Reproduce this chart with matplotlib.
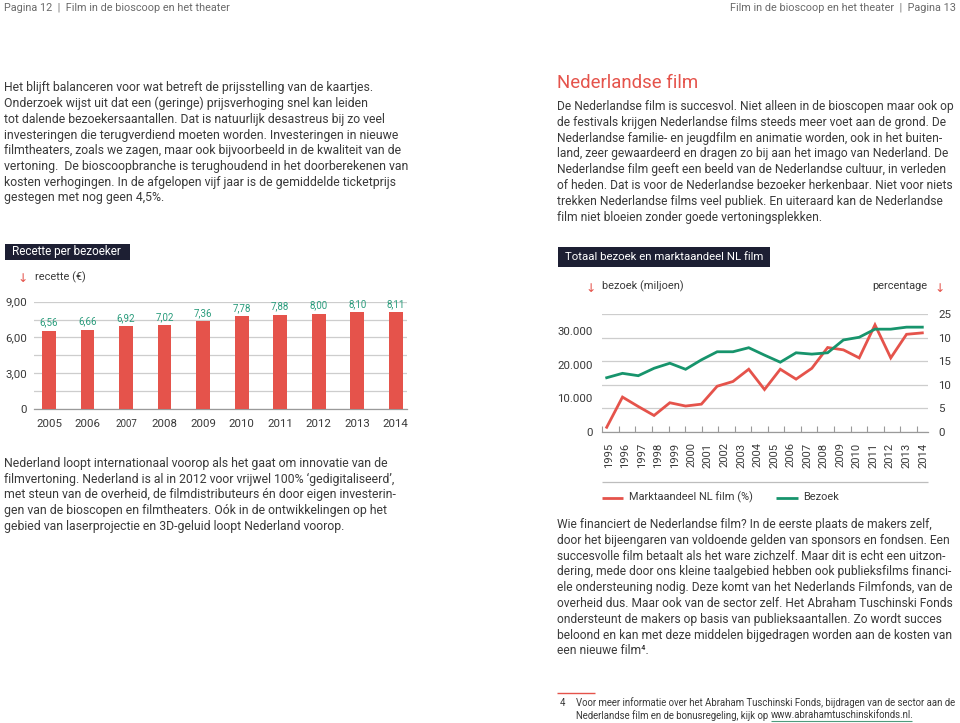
import matplotlib
matplotlib.use('Agg')
import matplotlib.pyplot as plt
from matplotlib.patches import Rectangle
from matplotlib.lines import Line2D
from matplotlib import font_manager
import numpy as np

W, H = 960, 723
BODY = 'Roboto'
_avail = {f.name for f in font_manager.fontManager.ttflist}
NARROW = 'Liberation Sans Narrow' if 'Liberation Sans Narrow' in _avail else BODY
FAM = [BODY, 'DejaVu Sans']
plt.rcParams['font.family'] = FAM

RED = '#e5534b'
GREEN = '#17946c'
TEAL = '#2a9c7c'
NAVY = '#1d1f33'
TXT = '#3a3a3a'
GRID = '#cdcdcd'
AXIS = '#9a9a9a'

# ---------------- data ----------------
bar_years = ['2005', '2006', '2007', '2008', '2009', '2010', '2011', '2012', '2013', '2014']
recette = [6.56, 6.66, 6.92, 7.02, 7.36, 7.78, 7.88, 8.00, 8.10, 8.11]
bar_ticks = [0, 3, 6, 9]
bar_tick_labels = ['0', '3,00', '6,00', '9,00']

line_years = ['1995', '1996', '1997', '1998', '1999', '2000', '2001', '2002', '2003', '2004',
              '2005', '2006', '2007', '2008', '2009', '2010', '2011', '2012', '2013', '2014']
marktaandeel = [1.0, 7.4, 5.4, 3.5, 6.2, 5.5, 5.9, 9.7, 10.7, 13.3, 9.0,
                13.3, 11.2, 13.5, 17.9, 17.4, 15.7, 22.7, 15.7, 20.7, 21.0]
bezoek = [16100, 17400, 16700, 18900, 20400, 18600, 21400, 23800, 23800, 25000, 22800,
          20700, 23500, 23100, 23500, 27300, 28100, 30500, 30500, 31100, 31100]
left_ticks = [0, 10000, 20000, 30000]
left_labels = ['0', '10.000', '20.000', '30.000']
right_ticks = [0, 5, 10, 15, 20, 25]
right_labels = ['0', '5', '10', '15', '10', '25']

header_left = 'Pagina 12  |  Film in de bioscoop en het theater'
header_right = 'Film in de bioscoop en het theater  |  Pagina 13'

para_top_left = [
    'Het blijft balanceren voor wat betreft de prijsstelling van de kaartjes.',
    'Onderzoek wijst uit dat een (geringe) prijsverhoging snel kan leiden',
    'tot dalende bezoekersaantallen. Dat is natuurlijk desastreus bij zo veel',
    'investeringen die terugverdiend moeten worden. Investeringen in nieuwe',
    'filmtheaters, zoals we zagen, maar ook bijvoorbeeld in de kwaliteit van de',
    'vertoning.  De bioscoopbranche is terughoudend in het doorberekenen van',
    'kosten verhogingen. In de afgelopen vijf jaar is de gemiddelde ticketprijs',
    'gestegen met nog geen 4,5%.',
]
heading_right = 'Nederlandse film'
para_top_right = [
    'De Nederlandse film is succesvol. Niet alleen in de bioscopen maar ook op',
    'de festivals krijgen Nederlandse films steeds meer voet aan de grond. De',
    'Nederlandse familie- en jeugdfilm en animatie worden, ook in het buiten-',
    'land, zeer gewaardeerd en dragen zo bij aan het imago van Nederland. De',
    'Nederlandse film geeft een beeld van de Nederlandse cultuur, in verleden',
    'of heden. Dat is voor de Nederlandse bezoeker herkenbaar. Niet voor niets',
    'trekken Nederlandse films veel publiek. En uiteraard kan de Nederlandse',
    'film niet bloeien zonder goede vertoningsplekken.',
]
para_bottom_left = [
    'Nederland loopt internationaal voorop als het gaat om innovatie van de',
    'filmvertoning. Nederland is al in 2012 voor vrijwel 100% \u2018gedigitaliseerd\u2019,',
    'met steun van de overheid, de filmdistributeurs \u00e9n door eigen investerin-',
    'gen van de bioscopen en filmtheaters. O\u00f3k in de ontwikkelingen op het',
    'gebied van laserprojectie en 3D-geluid loopt Nederland voorop.',
]
para_bottom_right = [
    'Wie financiert de Nederlandse film? In de eerste plaats de makers zelf,',
    'door het bijeengaren van voldoende gelden van sponsors en fondsen. Een',
    'succesvolle film betaalt als het ware zichzelf. Maar dit is echt een uitzon-',
    'dering, mede door ons kleine taalgebied hebben ook publieksfilms financi-',
    'ele ondersteuning nodig. Deze komt van het Nederlands Filmfonds, van de',
    'overheid dus. Maar ook van de sector zelf. Het Abraham Tuschinski Fonds',
    'ondersteunt de makers op basis van publieksaantallen. Zo wordt succes',
    'beloond en kan met deze middelen bijgedragen worden aan de kosten van',
    'een nieuwe film\u2074.',
]
foot_1 = 'Voor meer informatie over het Abraham Tuschinski Fonds, bijdragen van de sector aan de'
foot_2 = 'Nederlandse film en de bonusregeling, kijk op '
foot_url = 'www.abrahamtuschinskifonds.nl.'

# ---------------- figure helpers ----------------
fig = plt.figure(figsize=(W / 100, H / 100), dpi=100)
fig.patch.set_facecolor('white')
renderer = fig.canvas.get_renderer()


def fx(x):
    return x / W


def fy(y):
    return 1 - y / H


def rect(l, t, r, b):
    return [l / W, 1 - b / H, (r - l) / W, (b - t) / H]


def fit(text, width, family=None, base=10.0):
    t = fig.text(0, 0, text, fontsize=base, family=family or FAM)
    w = t.get_window_extent(renderer).width
    t.remove()
    return base * width / w


def put(x, y, s, size, color=TXT, ha='left', va='center', family=None, **kw):
    return fig.text(fx(x), fy(y), s, fontsize=size, color=color, ha=ha, va=va,
                    family=family or FAM, **kw)


def paragraph(lines, x, y0, step, size):
    for i, s in enumerate(lines):
        put(x, y0 + i * step, s, size)


def title_box(l, t, r, b, s, size):
    fig.add_artist(Rectangle((fx(l), fy(b)), (r - l) / W, (b - t) / H,
                             transform=fig.transFigure, facecolor=NAVY, edgecolor='none'))
    put(l + 7, (t + b) / 2, s, size, color='white')


def hline(x0, x1, y, color, lw):
    fig.add_artist(Line2D([fx(x0), fx(x1)], [fy(y), fy(y)], transform=fig.transFigure,
                          color=color, lw=lw, solid_capstyle='butt'))


# ---------------- header ----------------
hs = fit(header_left, 225, family=[NARROW, 'DejaVu Sans'])
put(4, 8, header_left, hs, color='#6a6a6a', family=[NARROW, 'DejaVu Sans'])
put(956, 8, header_right, hs, color='#6a6a6a', ha='right', family=[NARROW, 'DejaVu Sans'])

# ---------------- body text ----------------
body = fit(para_top_left[0], 371)
body_r = fit(para_top_right[0], 396)
paragraph(para_top_left, 4, 88, 15.7, body)
put(557, 83, heading_right, fit(heading_right, 141), color=RED)
paragraph(para_top_right, 557, 106.5, 15.8, body_r)
paragraph(para_bottom_left, 4, 463.5, 15.7, body)
paragraph(para_bottom_right, 557, 524.5, 15.8, body_r)

fs = fit(foot_1, 381)
hline(557, 595, 693, RED, 1.0)
put(560, 703, '4', fs)
put(576.5, 703, foot_1, fs)
t2 = put(576.5, 715.5, foot_2, fs)
w2 = t2.get_window_extent(renderer).width
tu = put(576.5 + w2, 715.5, foot_url, fs)
wu = tu.get_window_extent(renderer).width
hline(576.5 + w2, 576.5 + w2 + wu - 2, 721, '#4f9a7c', 0.8)

# ---------------- bar chart ----------------
title_box(5, 244, 129.5, 260, 'Recette per bezoeker', fit('Recette per bezoeker', 110))
lab_size = fit('bezoek (miljoen)', 81.7)
put(22.5, 279, '\u2193', lab_size + 1, color=RED, ha='center')
put(35, 277, 'recette (\u20ac)', lab_size)

ax1 = fig.add_axes(rect(34.3, 301.7, 407.3, 409))
xb = np.arange(len(bar_years))
bars = ax1.bar(xb, recette, width=0.36, color=RED, zorder=3)
ax1.set_xlim(-0.38, len(bar_years) - 1 + 0.30)
ax1.set_ylim(0, 9)
ax1.set_yticks(bar_ticks, bar_tick_labels)
ax1.set_yticks([1.5, 4.5, 7.5], minor=True)
ax1.grid(axis='y', which='both', color=GRID, lw=0.9)
ax1.set_axisbelow(True)
for s in ['top', 'right', 'left']:
    ax1.spines[s].set_visible(False)
ax1.spines['bottom'].set_color(AXIS)
ax1.spines['bottom'].set_linewidth(0.9)
tick_size = fit('30.000', 35)
ax1.set_xticks(xb, bar_years)
ax1.tick_params(axis='both', which='both', length=0, labelsize=tick_size, labelcolor=TXT)
ax1.tick_params(axis='y', pad=5)
ax1.tick_params(axis='x', pad=7)
for lbl in ax1.get_xticklabels():
    if lbl.get_text() == '2007':
        lbl.set_fontsize(tick_size * 0.85)
val_size = fit('6,56', 18.3)
ax1.bar_label(bars, labels=[f'{v:.2f}'.replace('.', ',') for v in recette],
              padding=2.5, color=TEAL, fontsize=val_size)

# ---------------- line chart ----------------
title_box(558.3, 247.3, 770, 266.7, 'Totaal bezoek en marktaandeel NL film',
          fit('Totaal bezoek en marktaandeel NL film', 198))
put(590.7, 288.5, '\u2193', lab_size + 1, color=RED, ha='center')
put(601.7, 286, 'bezoek (miljoen)', lab_size)
put(927.7, 286, 'percentage', lab_size, ha='right')
put(940, 288.5, '\u2193', lab_size + 1, color=RED, ha='center')

ax = fig.add_axes(rect(601.7, 314, 928, 432))
axr = ax.twinx()
ax.set_zorder(axr.get_zorder() + 1)
ax.patch.set_visible(False)

xl = np.arange(len(bezoek))
axr.plot(np.arange(len(marktaandeel)), marktaandeel, color=RED, lw=2.0, solid_joinstyle='miter')
ax.plot(xl, bezoek, color=GREEN, lw=2.0, solid_joinstyle='miter')
ax.set_xlim(-0.317, len(bezoek) - 1 + 0.36)
ax.set_ylim(0, 35000)
axr.set_ylim(0, 25)
ax.set_yticks(left_ticks, left_labels)
axr.set_yticks(right_ticks, right_labels)
axr.grid(axis='y', color=GRID, lw=0.9)
for a in (ax, axr):
    for s in ['top', 'right', 'left', 'bottom']:
        a.spines[s].set_visible(False)
ax.spines['bottom'].set_visible(True)
ax.spines['bottom'].set_color(AXIS)
ax.spines['bottom'].set_linewidth(0.9)
ax.tick_params(axis='y', length=0, pad=6.3, labelsize=tick_size, labelcolor=TXT)
axr.tick_params(axis='y', length=0, pad=7.2, labelsize=tick_size, labelcolor=TXT)

tick_first, tick_step = -0.279, 1.0488
tick_pos = tick_first + tick_step * np.arange(len(line_years))
ax.set_xticks(tick_pos + 0.4, line_years, rotation=90)
ax.set_xticks(tick_pos, minor=True)
ax.tick_params(axis='x', which='major', length=0, pad=7.5, labelsize=tick_size * 0.98,
               labelcolor=TXT)
ax.tick_params(axis='x', which='minor', length=4, direction='in', color=AXIS, width=0.8)

# legend
hline(601.7, 928, 481.7, '#bdbdbd', 0.9)
hline(601.7, 623.3, 498, RED, 2.0)
put(629.3, 497, 'Marktaandeel NL film (%)', lab_size)
hline(776, 798.3, 498, GREEN, 2.0)
put(803.3, 497, 'Bezoek', lab_size)

fig.savefig('out.png', dpi=100, facecolor='white')
